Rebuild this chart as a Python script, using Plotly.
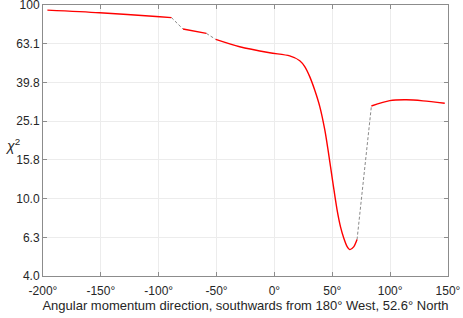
import plotly.graph_objects as go
import numpy as np

# Red segments (angle in degrees, chi^2)
seg1_x = [-196.2, -151.0, -99.1, -89.0]
seg1_y = [94.2, 91.3, 87.0, 86.2]
seg2_x = [-79.0, -58.8]
seg2_y = [75.2, 71.4]
seg3_x = [-50.7, -30.0, -4.1, 13.2, 21.9, 26.2, 30.5, 34.8, 39.2, 43.5, 46.3, 50.6, 54.1, 57.0, 59.9, 62.7, 65.1, 68.5, 71.4]
seg3_y = [66.5, 60.9, 56.7, 54.6, 51.6, 48.1, 42.7, 36.4, 29.9, 22.7, 17.9, 12.0, 8.77, 7.19, 6.26, 5.67, 5.45, 5.63, 6.14]
seg4_x = [83.8, 99.7, 114.1, 128.4, 147.2]
seg4_y = [30.1, 32.1, 32.4, 32.0, 31.1]

ytick_vals = [10**0.6, 10**0.8, 10**1.0, 10**1.2, 10**1.4, 10**1.6, 10**1.8, 100.0]
ytick_text = ["4.0", "6.3", "10.0", "15.8", "25.1", "39.8", "63.1", "100"]
xtick_vals = [-200, -150, -100, -50, 0, 50, 100, 150]
xtick_text = ["-200°", "-150°", "-100°", "-50°", "0°", "50°", "100°", "150°"]

segs = [(seg1_x, seg1_y), (seg2_x, seg2_y), (seg3_x, seg3_y), (seg4_x, seg4_y)]

fig = go.Figure()
# gray dashed gap connectors
for (ax, ay), (bx, by) in zip(segs[:-1], segs[1:]):
    fig.add_trace(go.Scatter(x=[ax[-1], bx[0]], y=[ay[-1], by[0]], mode="lines",
                             line=dict(color="#8a8a8a", width=1, dash="3px,2px"),
                             hoverinfo="skip", showlegend=False))
for sx, sy in segs:
    fig.add_trace(go.Scatter(x=sx, y=sy, mode="lines",
                             line=dict(color="#ff0000", width=1.4, shape="spline", smoothing=0.8),
                             showlegend=False))

axis_common = dict(showline=True, linecolor="#8c8c8c", linewidth=1, mirror="ticks",
                   ticks="inside", ticklen=4, tickcolor="#8c8c8c", automargin=False,
                   ticklabeloverflow="allow",
                   showgrid=True, gridcolor="#ececec", gridwidth=1, zeroline=False,
                   tickfont=dict(size=12, color="#262626", family="Liberation Sans, Arial, sans-serif"))

fig.update_layout(
    width=463, height=318,
    margin=dict(l=43, r=15, t=5, b=42),
    paper_bgcolor="white", plot_bgcolor="white",
    font=dict(family="Liberation Sans, Arial, sans-serif", color="#262626"),
    xaxis=dict(range=[-200, 150], tickvals=xtick_vals, ticktext=xtick_text,
               ticklabelstandoff=4,
               title=dict(text="Angular momentum direction, southwards from 180° West, 52.6° North",
                          font=dict(size=13), standoff=0),
               **axis_common),
    yaxis=dict(type="log", range=[0.6, 2.0005], tickvals=ytick_vals, ticktext=ytick_text,
               **axis_common),
)
fig.add_annotation(text="<i>χ</i><sup>2</sup>", xref="paper", yref="paper", x=-0.075, y=0.485,
                   showarrow=False, font=dict(size=14, color="#262626"), xanchor="center")

fig.write_html("out.html", config={"displayModeBar": False},
               post_script="document.body.style.margin='0';document.body.style.overflow='hidden';")
